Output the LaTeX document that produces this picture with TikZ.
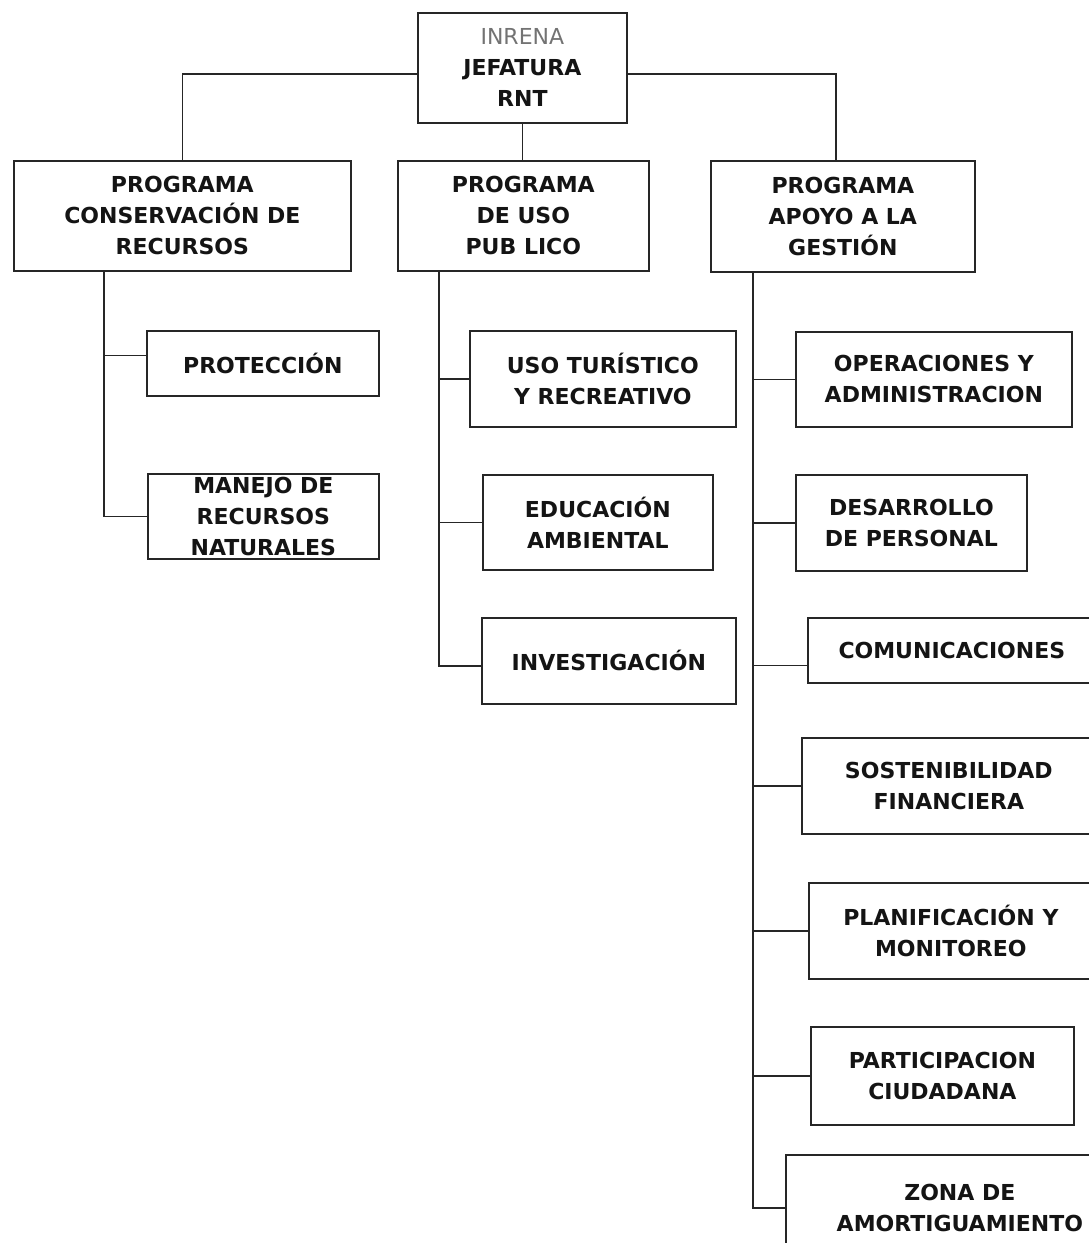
\documentclass[tikz,border=0pt]{standalone}
\usepackage{fontspec}
\setmainfont{DejaVu Sans}
\usepackage{tikz}

\definecolor{tinta}{HTML}{141414}
\definecolor{trazo}{HTML}{262626}

\tikzset{
	caja/.style={draw=trazo, line width=1.7pt, align=center, inner sep=2pt,
		anchor=north west, text=tinta, font=\bfseries\fontsize{22}{31}\selectfont},
	linea/.style={draw=trazo, line width=1.4pt},
}

\begin{document}
\begin{tikzpicture}[x=1pt,y=-1pt]
	\useasboundingbox (0,0) rectangle (1089,1243);
	\clip (0,0) rectangle (1089,1243);
	\fill [white] (0,0) rectangle (1089,1243);
	% jefatura y programas
	\node [caja, minimum width=209pt, minimum height=110pt] (jefatura) at (417,12)
		{{\mdseries\color{black!55}INRENA}\\JEFATURA\\RNT};
	\node [caja, minimum width=337pt, minimum height=110pt] (conserv) at (13,160)
		{PROGRAMA\\CONSERVACIÓN DE\\RECURSOS};
	\node [caja, minimum width=251pt, minimum height=110pt] (usopub) at (397,160)
		{PROGRAMA\\DE USO\\PUB LICO};
	\node [caja, minimum width=264pt, minimum height=111pt] (apoyo) at (710,160)
		{PROGRAMA\\APOYO A LA\\GESTIÓN};
	% conservacion
	\node [caja, minimum width=232pt, minimum height=65pt] (proteccion) at (146,330) {PROTECCIÓN};
	\node [caja, minimum width=231pt, minimum height=85pt] (manejo) at (147,473) {MANEJO DE\\RECURSOS\\NATURALES};
	% uso publico
	\node [caja, minimum width=266pt, minimum height=96pt] (turistico) at (469,330) {USO TURÍSTICO\\Y RECREATIVO};
	\node [caja, minimum width=230pt, minimum height=95pt] (educacion) at (482,474) {EDUCACIÓN\\AMBIENTAL};
	\node [caja, minimum width=254pt, minimum height=86pt] (investigacion) at (481,617) {\raisebox{-10pt}{INVESTIGACIÓN}};
	% apoyo a la gestion
	\node [caja, minimum width=276pt, minimum height=95pt] (operaciones) at (795,331) {OPERACIONES Y\\ADMINISTRACION};
	\node [caja, minimum width=231pt, minimum height=96pt] (desarrollo) at (795,474) {DESARROLLO\\DE PERSONAL};
	\node [caja, minimum width=288pt, minimum height=65pt] (comunic) at (807,617) {COMUNICACIONES};
	\node [caja, minimum width=294pt, minimum height=96pt] (sostenib) at (801,737) {SOSTENIBILIDAD\\FINANCIERA};
	\node [caja, minimum width=284pt, minimum height=96pt] (planif) at (808,882) {PLANIFICACIÓN Y\\MONITOREO};
	\node [caja, minimum width=263pt, minimum height=98pt] (particip) at (810,1026) {PARTICIPACION\\CIUDADANA};
	\node [caja, minimum width=348pt, minimum height=106pt] (zona) at (785,1154) {ZONA DE\\AMORTIGUAMIENTO};

	\coordinate (tronco1) at ([xshift=91pt]conserv.south west);
	\coordinate (tronco2) at ([xshift=42pt]usopub.south west);
	\coordinate (tronco3) at ([xshift=43pt]apoyo.south west);

	\draw [linea] ([yshift=-6pt]jefatura.west) -| (conserv.north);
	\draw [linea] ([yshift=-6pt]jefatura.east) -| ([xshift=-7pt]apoyo.north);
	\draw [linea] (jefatura.south) -- (jefatura.south |- usopub.north);

	\draw [linea] (tronco1) |- (manejo.west);
	\draw [linea] (tronco1 |- proteccion.west) ++(0,-8) -- ([yshift=8pt]proteccion.west);

	\draw [linea] (tronco2) |- ([yshift=-5pt]investigacion.west);
	\foreach \n in {turistico,educacion}
		\draw [linea] (tronco2 |- \n.west) -- (\n.west);

	\draw [linea] (tronco3) |- (zona.west);
	\draw [linea] (tronco3 |- comunic.west) ++(0,15) -- ([yshift=-15pt]comunic.west);
	\foreach \n in {operaciones,desarrollo,sostenib,planif,particip}
		\draw [linea] (tronco3 |- \n.west) -- (\n.west);
\end{tikzpicture}
\end{document}
